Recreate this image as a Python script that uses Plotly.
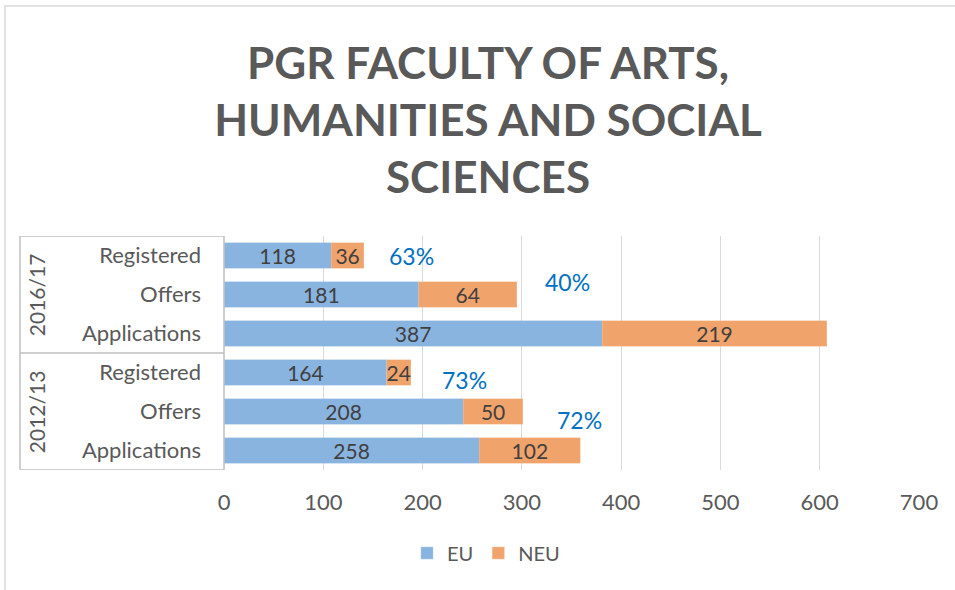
import plotly.graph_objects as go

# Data (bottom to top on the chart)
years = ["2012/13", "2012/13", "2012/13", "2016/17", "2016/17", "2016/17"]
stages = ["Applications", "Offers", "Registered", "Applications", "Offers", "Registered"]
# Bar lengths as drawn in the picture
eu_values = [257, 241, 164, 381, 196, 108]
neu_values = [102, 60, 24, 226, 99, 33]
# Numbers printed on the bars
eu_labels = ["258", "208", "164", "387", "181", "118"]
neu_labels = ["102", "50", "24", "219", "64", "36"]
# Conversion-rate call-outs
pct_labels = ["63%", "40%", "73%", "72%"]
pct_x = [189, 346, 242, 358]
pct_y = [5.0, 4.33, 1.82, 0.77]
x_ticks = [0, 100, 200, 300, 400, 500, 600, 700]

FONT = "Lato"
GREY = "#595959"
positions = list(range(len(stages)))

fig = go.Figure()
fig.add_trace(go.Bar(
    y=positions, x=eu_values, orientation="h", name="EU",
    marker=dict(color="#8AB4E0", line=dict(color="#A9C8EA", width=0.5)),
    text=eu_labels, textposition="inside", insidetextanchor="middle",
    textangle=0, textfont=dict(family=FONT, size=21, color="#404040"),
    hoverinfo="skip",
))
fig.add_trace(go.Bar(
    y=positions, x=neu_values, orientation="h", name="NEU",
    marker=dict(color="#F1A36C", line=dict(color="#F6C09A", width=0.5)),
    text=neu_labels, textposition="inside", insidetextanchor="middle",
    textangle=0, textfont=dict(family=FONT, size=21, color="#404040"),
    hoverinfo="skip",
))

for t, xv, yv in zip(pct_labels, pct_x, pct_y):
    fig.add_annotation(x=xv, y=yv, xref="x", yref="y", text=t, showarrow=False,
                       xanchor="center", yanchor="middle",
                       font=dict(family=FONT, size=23, color="#0070C0"))

# Group labels (rotated) and table lines
for label, yc in [("2016/17", 4.0), ("2012/13", 1.0)]:
    fig.add_annotation(x=-0.2695, y=yc, xref="paper", yref="y", text=label,
                       textangle=-90, showarrow=False, xanchor="center", yanchor="middle",
                       font=dict(family=FONT, size=21, color=GREY))

line_col = "#BFBFBF"
x_left = -0.2935
for yv in [5.5, 2.5, -0.5]:
    fig.add_shape(type="line", xref="paper", yref="y", x0=x_left, x1=0, y0=yv, y1=yv,
                  line=dict(color=line_col, width=1.5))
fig.add_shape(type="line", xref="paper", yref="y", x0=x_left, x1=x_left, y0=-0.5, y1=5.5,
              line=dict(color=line_col, width=1.5))
fig.add_shape(type="line", xref="paper", yref="y", x0=0, x1=0, y0=-0.5, y1=5.5,
              line=dict(color=line_col, width=1.5))

# Outer chart border (partially visible)
fig.add_shape(type="rect", xref="paper", yref="paper", x0=-0.3151, x1=1.2, y0=-1.5, y1=1.983,
              line=dict(color="#D9D9D9", width=1.5), layer="below")

fig.update_layout(
    width=955, height=590,
    margin=dict(l=224, r=36, t=236, b=120),
    paper_bgcolor="white", plot_bgcolor="white",
    barmode="stack", bargap=0.35,
    title=dict(text="PGR FACULTY OF ARTS,<br>HUMANITIES AND SOCIAL<br>SCIENCES",
               x=488 / 955, xanchor="center", xref="container",
               y=1 - 79 / 590, yanchor="top", yref="container",
               font=dict(family=FONT, size=44, color=GREY, weight="bold")),
    legend=dict(orientation="h", x=486 / 955, xanchor="center", xref="container",
                y=1 - 553 / 590, yanchor="middle", yref="container", itemwidth=30,
                font=dict(family=FONT, size=20, color=GREY), traceorder="normal"),
    uniformtext=dict(minsize=21, mode="show"),
    showlegend=True,
)
fig.update_xaxes(range=[0, 700], tickvals=x_ticks, showgrid=True, gridcolor="#D9D9D9",
                 gridwidth=1, zeroline=False, showline=False,
                 tickfont=dict(family=FONT, size=22, color=GREY), ticklabelstandoff=17)
fig.update_yaxes(range=[-0.5, 5.5], tickvals=positions, ticktext=stages, showgrid=False,
                 zeroline=False, showline=False,
                 tickfont=dict(family=FONT, size=22, color=GREY), ticklabelstandoff=22)

fig.write_html("out.html", post_script="document.body.style.margin='0';",
               config={"displayModeBar": False})
